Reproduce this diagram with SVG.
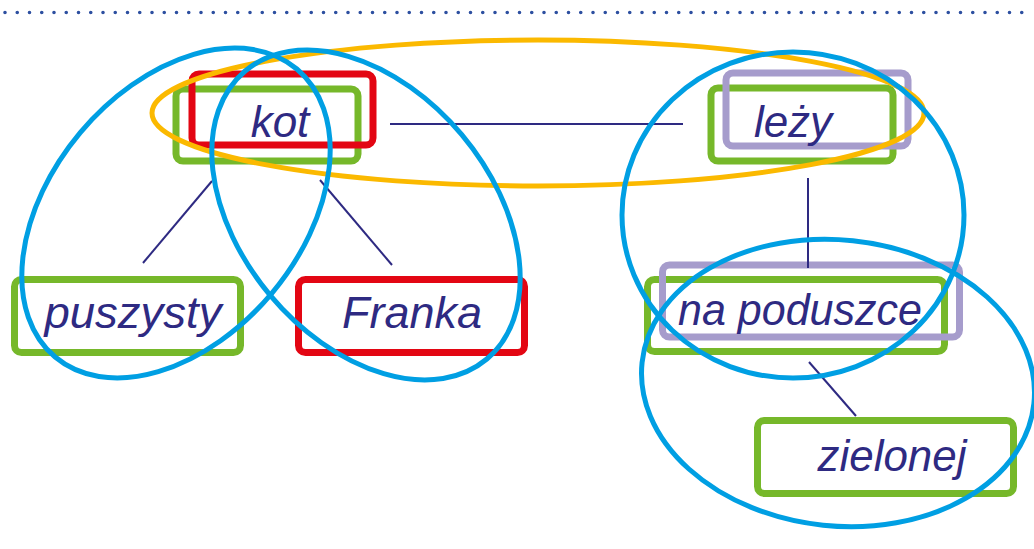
<svg xmlns="http://www.w3.org/2000/svg" width="1034" height="549" viewBox="0 0 1034 549">
<style>
.box{fill:none;stroke-width:7;}
.g{stroke:#76b82a;}
.r{stroke:#e30613;}
.p{stroke:#a69ccc;}
.lbl{font-family:"Liberation Sans",Arial,sans-serif;font-style:italic;font-size:44px;fill:#2e2a82;text-anchor:middle;}
.conn line{stroke:#2e2a82;stroke-width:2;}
.blue{fill:none;stroke:#009fe3;stroke-width:5;}
.orange{fill:none;stroke:#fbb900;stroke-width:5;}
</style>
<rect width="1034" height="549" fill="#ffffff"/>
<line x1="5" y1="12.5" x2="1034" y2="12.5" stroke="#2d4fa0" stroke-width="3.6" stroke-linecap="round" stroke-dasharray="0 12.25"/>

<g id="kot">
<rect class="box g" x="176" y="89" width="182" height="72" rx="7"/>
<rect class="box r" x="192" y="74" width="181" height="71" rx="7"/>
<text class="lbl" x="280" y="137">kot</text>
</g>
<g id="lezy">
<rect class="box g" x="711" y="88" width="182" height="73" rx="7"/>
<rect class="box p" x="726" y="73" width="182" height="73" rx="7"/>
<text class="lbl" x="793" y="137">leży</text>
</g>
<g id="puszysty">
<rect class="box g" x="14.5" y="279.5" width="226" height="73" rx="7"/>
<text class="lbl" x="133" y="328" textLength="177" lengthAdjust="spacingAndGlyphs">puszysty</text>
</g>
<g id="franka">
<rect class="box r" x="298.5" y="279.5" width="226" height="73" rx="7"/>
<text class="lbl" x="412" y="328" textLength="140" lengthAdjust="spacingAndGlyphs">Franka</text>
</g>
<g id="na-poduszce">
<rect class="box g" x="647.5" y="279.5" width="297" height="72" rx="7"/>
<rect class="box p" x="662.5" y="265" width="297" height="72" rx="7"/>
<text class="lbl" x="800" y="325" textLength="244" lengthAdjust="spacingAndGlyphs">na poduszce</text>
</g>
<g id="zielonej">
<rect class="box g" x="757.5" y="420.5" width="256" height="73" rx="7"/>
<text class="lbl" x="892" y="471" textLength="149" lengthAdjust="spacingAndGlyphs">zielonej</text>
</g>

<g id="connectors" class="conn">
<line x1="390" y1="124" x2="683" y2="124"/>
<line x1="808" y1="178" x2="808" y2="268"/>
<line x1="212" y1="181" x2="143" y2="263"/>
<line x1="320" y1="180" x2="392" y2="265"/>
<line x1="809" y1="362" x2="856" y2="416"/>
</g>

<g id="groupings">
<ellipse class="orange" cx="538" cy="113" rx="386" ry="73"/>
<ellipse class="blue" cx="176" cy="213" rx="188" ry="125" transform="rotate(-50 176 213)"/>
<ellipse class="blue" cx="366" cy="215" rx="188" ry="125" transform="rotate(50 366 215)"/>
<ellipse class="blue" cx="793" cy="215" rx="171" ry="163"/>
<ellipse class="blue" cx="838" cy="383" rx="197" ry="143" transform="rotate(6 838 383)"/>
</g>
</svg>
